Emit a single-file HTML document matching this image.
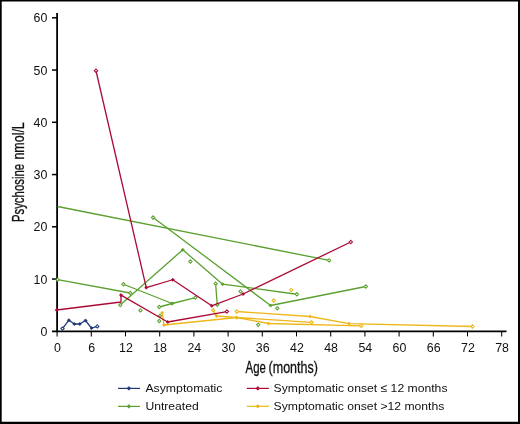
<!DOCTYPE html>
<html><head><meta charset="utf-8"><title>Psychosine by age</title>
<style>
html,body{margin:0;padding:0;background:#fff}
body{width:520px;height:424px;overflow:hidden;position:relative}
svg{display:block;position:absolute;left:0;top:0}
text{font-family:"Liberation Sans",sans-serif;fill:#111}
</style></head><body>
<svg width="520" height="424" viewBox="0 0 520 424">
<rect x="0" y="0" width="520" height="424" fill="#fff"/>
<!-- frame -->
<path d="M0 0H520V1.4H0Z M0 0H1.7V424H0Z M518 0H520V424H518Z M0 421.8H520V424H0Z" fill="#000"/>
<g id="axes">
<path d="M57.1 13V332.15" stroke="#000" stroke-width="1.8" fill="none"/>
<path d="M52 331.35H506.5" stroke="#000" stroke-width="1.6" fill="none"/>
<path d="M52 279.05H57" stroke="#000" stroke-width="1.5"/>
<path d="M52 226.80H57" stroke="#000" stroke-width="1.5"/>
<path d="M52 174.55H57" stroke="#000" stroke-width="1.5"/>
<path d="M52 122.30H57" stroke="#000" stroke-width="1.5"/>
<path d="M52 70.05H57" stroke="#000" stroke-width="1.5"/>
<path d="M52 17.80H57" stroke="#000" stroke-width="1.5"/>
<path d="M57.10 331V336.4" stroke="#000" stroke-width="1.05"/>
<path d="M91.30 331V336.4" stroke="#000" stroke-width="1.05"/>
<path d="M125.50 331V336.4" stroke="#000" stroke-width="1.05"/>
<path d="M159.70 331V336.4" stroke="#000" stroke-width="1.05"/>
<path d="M193.90 331V336.4" stroke="#000" stroke-width="1.05"/>
<path d="M228.10 331V336.4" stroke="#000" stroke-width="1.05"/>
<path d="M262.30 331V336.4" stroke="#000" stroke-width="1.05"/>
<path d="M296.50 331V336.4" stroke="#000" stroke-width="1.05"/>
<path d="M330.70 331V336.4" stroke="#000" stroke-width="1.05"/>
<path d="M364.90 331V336.4" stroke="#000" stroke-width="1.05"/>
<path d="M399.10 331V336.4" stroke="#000" stroke-width="1.05"/>
<path d="M433.30 331V336.4" stroke="#000" stroke-width="1.05"/>
<path d="M467.50 331V336.4" stroke="#000" stroke-width="1.05"/>
<path d="M501.70 331V336.4" stroke="#000" stroke-width="1.05"/>
</g>
<g id="data">
<path d="M62.50 328.60L68.90 320.20L74.30 324.00L79.80 324.00L85.50 320.50L91.50 328.10L97.30 326.40" fill="none" stroke="#1F3A77" stroke-width="1.3" stroke-linejoin="round"/>
<path d="M62.50 326.95L64.15 328.60L62.50 330.25L60.85 328.60Z" fill="#fff" stroke="#1F3A77" stroke-width="1.05"/>
<path d="M68.90 318.65L70.45 320.20L68.90 321.75L67.35 320.20Z" fill="#1F3A77" stroke="#1F3A77" stroke-width="0.8"/>
<path d="M74.30 322.45L75.85 324.00L74.30 325.55L72.75 324.00Z" fill="#1F3A77" stroke="#1F3A77" stroke-width="0.8"/>
<path d="M79.80 322.45L81.35 324.00L79.80 325.55L78.25 324.00Z" fill="#1F3A77" stroke="#1F3A77" stroke-width="0.8"/>
<path d="M85.50 318.95L87.05 320.50L85.50 322.05L83.95 320.50Z" fill="#1F3A77" stroke="#1F3A77" stroke-width="0.8"/>
<path d="M91.50 326.55L93.05 328.10L91.50 329.65L89.95 328.10Z" fill="#1F3A77" stroke="#1F3A77" stroke-width="0.8"/>
<path d="M97.30 324.75L98.95 326.40L97.30 328.05L95.65 326.40Z" fill="#fff" stroke="#1F3A77" stroke-width="1.05"/>
<path d="M57.50 206.50L329.10 260.40" fill="none" stroke="#5BA02F" stroke-width="1.3" stroke-linejoin="round"/>
<path d="M329.10 258.75L330.75 260.40L329.10 262.05L327.45 260.40Z" fill="#fff" stroke="#5BA02F" stroke-width="1.05"/>
<path d="M57.70 279.70L130.25 293.00" fill="none" stroke="#5BA02F" stroke-width="1.3" stroke-linejoin="round"/>
<path d="M57.70 278.05L59.35 279.70L57.70 281.35L56.05 279.70Z" fill="#fff" stroke="#5BA02F" stroke-width="1.05"/>
<path d="M130.25 291.35L131.90 293.00L130.25 294.65L128.60 293.00Z" fill="#fff" stroke="#5BA02F" stroke-width="1.05"/>
<path d="M123.50 284.25L172.20 303.50" fill="none" stroke="#5BA02F" stroke-width="1.3" stroke-linejoin="round"/>
<path d="M123.50 282.60L125.15 284.25L123.50 285.90L121.85 284.25Z" fill="#fff" stroke="#5BA02F" stroke-width="1.05"/>
<path d="M172.20 301.95L173.75 303.50L172.20 305.05L170.65 303.50Z" fill="#5BA02F" stroke="#5BA02F" stroke-width="0.8"/>
<path d="M159.20 307.00L172.20 303.50L195.40 297.70" fill="none" stroke="#5BA02F" stroke-width="1.3" stroke-linejoin="round"/>
<path d="M159.20 305.35L160.85 307.00L159.20 308.65L157.55 307.00Z" fill="#fff" stroke="#5BA02F" stroke-width="1.05"/>
<path d="M172.20 301.95L173.75 303.50L172.20 305.05L170.65 303.50Z" fill="#5BA02F" stroke="#5BA02F" stroke-width="0.8"/>
<path d="M195.40 296.05L197.05 297.70L195.40 299.35L193.75 297.70Z" fill="#fff" stroke="#5BA02F" stroke-width="1.05"/>
<path d="M120.25 305.10L182.75 249.75L222.60 284.20L296.90 294.25" fill="none" stroke="#5BA02F" stroke-width="1.3" stroke-linejoin="round"/>
<path d="M120.25 303.45L121.90 305.10L120.25 306.75L118.60 305.10Z" fill="#fff" stroke="#5BA02F" stroke-width="1.05"/>
<path d="M182.75 248.20L184.30 249.75L182.75 251.30L181.20 249.75Z" fill="#5BA02F" stroke="#5BA02F" stroke-width="0.8"/>
<path d="M222.60 282.65L224.15 284.20L222.60 285.75L221.05 284.20Z" fill="#5BA02F" stroke="#5BA02F" stroke-width="0.8"/>
<path d="M296.90 292.60L298.55 294.25L296.90 295.90L295.25 294.25Z" fill="#fff" stroke="#5BA02F" stroke-width="1.05"/>
<path d="M153.10 217.50L270.60 305.50L365.90 286.50" fill="none" stroke="#5BA02F" stroke-width="1.3" stroke-linejoin="round"/>
<path d="M153.10 215.85L154.75 217.50L153.10 219.15L151.45 217.50Z" fill="#fff" stroke="#5BA02F" stroke-width="1.05"/>
<path d="M270.60 303.95L272.15 305.50L270.60 307.05L269.05 305.50Z" fill="#5BA02F" stroke="#5BA02F" stroke-width="0.8"/>
<path d="M365.90 284.85L367.55 286.50L365.90 288.15L364.25 286.50Z" fill="#fff" stroke="#5BA02F" stroke-width="1.05"/>
<path d="M215.60 283.70L217.25 304.80" fill="none" stroke="#5BA02F" stroke-width="1.3" stroke-linejoin="round"/>
<path d="M215.60 282.05L217.25 283.70L215.60 285.35L213.95 283.70Z" fill="#fff" stroke="#5BA02F" stroke-width="1.05"/>
<path d="M217.25 303.15L218.90 304.80L217.25 306.45L215.60 304.80Z" fill="#fff" stroke="#5BA02F" stroke-width="1.05"/>
<path d="M140.40 308.75L142.05 310.40L140.40 312.05L138.75 310.40Z" fill="#fff" stroke="#5BA02F" stroke-width="1.05"/>
<path d="M160.00 314.15L161.65 315.80L160.00 317.45L158.35 315.80Z" fill="#fff" stroke="#5BA02F" stroke-width="1.05"/>
<path d="M159.20 319.35L160.85 321.00L159.20 322.65L157.55 321.00Z" fill="#fff" stroke="#5BA02F" stroke-width="1.05"/>
<path d="M190.40 259.85L192.05 261.50L190.40 263.15L188.75 261.50Z" fill="#fff" stroke="#5BA02F" stroke-width="1.05"/>
<path d="M240.50 289.75L242.15 291.40L240.50 293.05L238.85 291.40Z" fill="#fff" stroke="#5BA02F" stroke-width="1.05"/>
<path d="M277.25 306.65L278.90 308.30L277.25 309.95L275.60 308.30Z" fill="#fff" stroke="#5BA02F" stroke-width="1.05"/>
<path d="M258.20 323.20L259.85 324.85L258.20 326.50L256.55 324.85Z" fill="#fff" stroke="#5BA02F" stroke-width="1.05"/>
<path d="M162.20 312.80L164.00 325.00L236.50 317.50L268.50 323.50L361.20 325.90" fill="none" stroke="#EDB71A" stroke-width="1.3" stroke-linejoin="round"/>
<path d="M162.20 311.25L163.75 312.80L162.20 314.35L160.65 312.80Z" fill="#EDB71A" stroke="#EDB71A" stroke-width="0.8"/>
<path d="M164.00 323.45L165.55 325.00L164.00 326.55L162.45 325.00Z" fill="#EDB71A" stroke="#EDB71A" stroke-width="0.8"/>
<path d="M236.50 315.95L238.05 317.50L236.50 319.05L234.95 317.50Z" fill="#EDB71A" stroke="#EDB71A" stroke-width="0.8"/>
<path d="M268.50 321.95L270.05 323.50L268.50 325.05L266.95 323.50Z" fill="#EDB71A" stroke="#EDB71A" stroke-width="0.8"/>
<path d="M361.20 324.25L362.85 325.90L361.20 327.55L359.55 325.90Z" fill="#fff" stroke="#EDB71A" stroke-width="1.05"/>
<path d="M213.10 310.20L216.50 316.00L236.50 317.50L311.40 322.30" fill="none" stroke="#EDB71A" stroke-width="1.3" stroke-linejoin="round"/>
<path d="M213.10 308.55L214.75 310.20L213.10 311.85L211.45 310.20Z" fill="#fff" stroke="#EDB71A" stroke-width="1.05"/>
<path d="M216.50 314.45L218.05 316.00L216.50 317.55L214.95 316.00Z" fill="#EDB71A" stroke="#EDB71A" stroke-width="0.8"/>
<path d="M236.50 315.95L238.05 317.50L236.50 319.05L234.95 317.50Z" fill="#EDB71A" stroke="#EDB71A" stroke-width="0.8"/>
<path d="M311.40 320.65L313.05 322.30L311.40 323.95L309.75 322.30Z" fill="#fff" stroke="#EDB71A" stroke-width="1.05"/>
<path d="M236.80 311.50L310.10 316.50L349.00 323.70L472.50 326.50" fill="none" stroke="#EDB71A" stroke-width="1.3" stroke-linejoin="round"/>
<path d="M236.80 309.85L238.45 311.50L236.80 313.15L235.15 311.50Z" fill="#fff" stroke="#EDB71A" stroke-width="1.05"/>
<path d="M310.10 314.95L311.65 316.50L310.10 318.05L308.55 316.50Z" fill="#EDB71A" stroke="#EDB71A" stroke-width="0.8"/>
<path d="M349.00 322.15L350.55 323.70L349.00 325.25L347.45 323.70Z" fill="#EDB71A" stroke="#EDB71A" stroke-width="0.8"/>
<path d="M472.50 324.85L474.15 326.50L472.50 328.15L470.85 326.50Z" fill="#fff" stroke="#EDB71A" stroke-width="1.05"/>
<path d="M291.25 288.25L292.90 289.90L291.25 291.55L289.60 289.90Z" fill="#fff" stroke="#EDB71A" stroke-width="1.05"/>
<path d="M273.75 298.85L275.40 300.50L273.75 302.15L272.10 300.50Z" fill="#fff" stroke="#EDB71A" stroke-width="1.05"/>
<path d="M96.00 70.75L146.25 287.60L172.75 279.75L211.70 305.80L243.10 294.00L350.80 242.00" fill="none" stroke="#AA0A34" stroke-width="1.3" stroke-linejoin="round"/>
<path d="M96.00 69.10L97.65 70.75L96.00 72.40L94.35 70.75Z" fill="#fff" stroke="#AA0A34" stroke-width="1.05"/>
<path d="M146.25 286.05L147.80 287.60L146.25 289.15L144.70 287.60Z" fill="#AA0A34" stroke="#AA0A34" stroke-width="0.8"/>
<path d="M172.75 278.20L174.30 279.75L172.75 281.30L171.20 279.75Z" fill="#AA0A34" stroke="#AA0A34" stroke-width="0.8"/>
<path d="M211.70 304.25L213.25 305.80L211.70 307.35L210.15 305.80Z" fill="#AA0A34" stroke="#AA0A34" stroke-width="0.8"/>
<path d="M243.10 292.45L244.65 294.00L243.10 295.55L241.55 294.00Z" fill="#AA0A34" stroke="#AA0A34" stroke-width="0.8"/>
<path d="M350.80 240.35L352.45 242.00L350.80 243.65L349.15 242.00Z" fill="#fff" stroke="#AA0A34" stroke-width="1.05"/>
<path d="M56.70 310.00L121.00 302.00L121.00 295.10L167.70 322.00L226.90 311.60" fill="none" stroke="#AA0A34" stroke-width="1.3" stroke-linejoin="round"/>
<path d="M56.70 308.45L58.25 310.00L56.70 311.55L55.15 310.00Z" fill="#AA0A34" stroke="#AA0A34" stroke-width="0.8"/>
<path d="M121.00 293.55L122.55 295.10L121.00 296.65L119.45 295.10Z" fill="#AA0A34" stroke="#AA0A34" stroke-width="0.8"/>
<path d="M167.70 320.45L169.25 322.00L167.70 323.55L166.15 322.00Z" fill="#AA0A34" stroke="#AA0A34" stroke-width="0.8"/>
<path d="M226.90 309.95L228.55 311.60L226.90 313.25L225.25 311.60Z" fill="#fff" stroke="#AA0A34" stroke-width="1.05"/>
</g>
<g id="labels">
<text x="47.3" y="335.75" text-anchor="end" font-size="12.4">0</text>
<text x="47.3" y="283.50" text-anchor="end" font-size="12.4">10</text>
<text x="47.3" y="231.25" text-anchor="end" font-size="12.4">20</text>
<text x="47.3" y="179.00" text-anchor="end" font-size="12.4">30</text>
<text x="47.3" y="126.75" text-anchor="end" font-size="12.4">40</text>
<text x="47.3" y="74.50" text-anchor="end" font-size="12.4">50</text>
<text x="47.3" y="22.25" text-anchor="end" font-size="12.4">60</text>
<text x="57.50" y="351.8" text-anchor="middle" font-size="12.4">0</text>
<text x="91.70" y="351.8" text-anchor="middle" font-size="12.4">6</text>
<text x="125.90" y="351.8" text-anchor="middle" font-size="12.4">12</text>
<text x="160.10" y="351.8" text-anchor="middle" font-size="12.4">18</text>
<text x="194.30" y="351.8" text-anchor="middle" font-size="12.4">24</text>
<text x="228.50" y="351.8" text-anchor="middle" font-size="12.4">30</text>
<text x="262.70" y="351.8" text-anchor="middle" font-size="12.4">36</text>
<text x="296.90" y="351.8" text-anchor="middle" font-size="12.4">42</text>
<text x="331.10" y="351.8" text-anchor="middle" font-size="12.4">48</text>
<text x="365.30" y="351.8" text-anchor="middle" font-size="12.4">54</text>
<text x="399.50" y="351.8" text-anchor="middle" font-size="12.4">60</text>
<text x="433.70" y="351.8" text-anchor="middle" font-size="12.4">66</text>
<text x="467.90" y="351.8" text-anchor="middle" font-size="12.4">72</text>
<text x="502.10" y="351.8" text-anchor="middle" font-size="12.4">78</text>
</g>
<g font-size="15.8" stroke="#111" stroke-width="0.3"><text x="245.6" y="372.9" textLength="20.3" lengthAdjust="spacingAndGlyphs">Age</text><text x="268.6" y="372.9" textLength="49.3" lengthAdjust="spacingAndGlyphs">(months)</text></g>
<g font-size="15.8" stroke="#111" stroke-width="0.3"><text transform="translate(24.3 222.1) rotate(-90)" x="0" y="0" textLength="58.2" lengthAdjust="spacingAndGlyphs">Psychosine</text><text transform="translate(24.3 159.6) rotate(-90)" x="0" y="0" textLength="37.4" lengthAdjust="spacingAndGlyphs">nmol/L</text></g>
<!-- legend -->
<g id="legend" font-size="11.5">
<path d="M118 388.4H140" stroke="#1F3A77" stroke-width="1.2"/><path d="M128.90 386.60L130.70 388.40L128.90 390.20L127.10 388.40Z" fill="#1F3A77" stroke="#1F3A77" stroke-width="0.8"/>
<text x="145.4" y="392" textLength="77.1" lengthAdjust="spacingAndGlyphs">Asymptomatic</text>
<path d="M118 406.4H140" stroke="#5BA02F" stroke-width="1.2"/><path d="M128.90 404.60L130.70 406.40L128.90 408.20L127.10 406.40Z" fill="#5BA02F" stroke="#5BA02F" stroke-width="0.8"/>
<text x="145.4" y="409.8" textLength="53.3" lengthAdjust="spacingAndGlyphs">Untreated</text>
<path d="M246.8 388.4H268.9" stroke="#AA0A34" stroke-width="1.2"/><path d="M257.80 386.60L259.60 388.40L257.80 390.20L256.00 388.40Z" fill="#AA0A34" stroke="#AA0A34" stroke-width="0.8"/>
<text x="273.6" y="392" textLength="173.9" lengthAdjust="spacingAndGlyphs">Symptomatic onset ≤ 12 months</text>
<path d="M246.8 406.3H268.9" stroke="#EDB71A" stroke-width="1.2"/><path d="M257.80 404.50L259.60 406.30L257.80 408.10L256.00 406.30Z" fill="#EDB71A" stroke="#EDB71A" stroke-width="0.8"/>
<text x="273.6" y="409.8" textLength="170.7" lengthAdjust="spacingAndGlyphs">Symptomatic onset &gt;12 months</text>
</g>
</svg>
</body></html>
